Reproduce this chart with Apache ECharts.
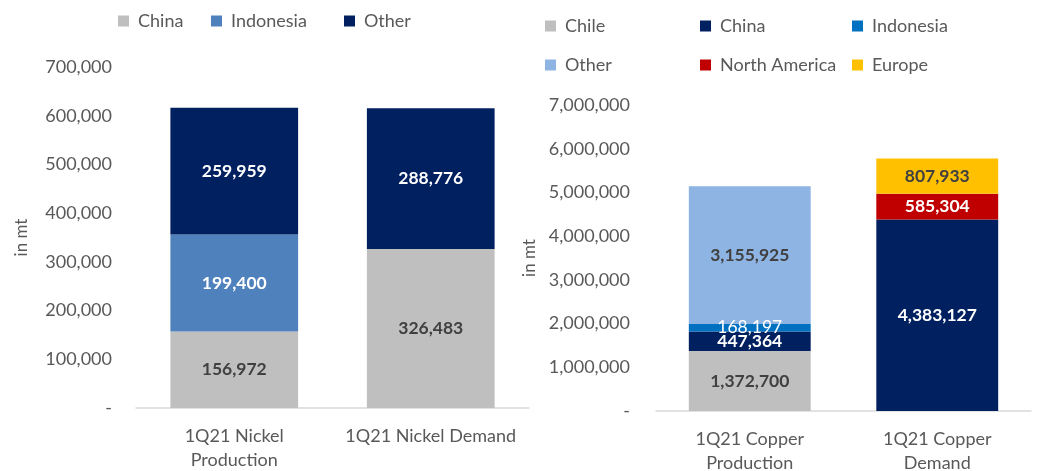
<!DOCTYPE html>
<html><head><meta charset="utf-8">
<script src="https://cdn.jsdelivr.net/npm/echarts@6/dist/echarts.min.js"></script>
<style>html,body{margin:0;padding:0;background:#fff}#c{width:1045px;height:471px}</style>
</head><body><div id="c"></div>
<script>
var nickelCats = ['1Q21 Nickel\nProduction', '1Q21 Nickel Demand'];
var nickelChina = [156972, 326483];
var nickelIndonesia = [199400, '-'];
var nickelOther = [259959, 288776];

var copperCats = ['1Q21 Copper\nProduction', '1Q21 Copper\nDemand'];
var copperChile = [1372700, '-'];
var copperChina = [447364, 4383127];
var copperIndonesia = [168197, '-'];
var copperOther = [3155925, '-'];
var copperNorthAmerica = ['-', 585304];
var copperEurope = ['-', 807933];

var FONT = 'Lato, "Open Sans", sans-serif';
var chart = echarts.init(document.getElementById('c'), null, {renderer: 'canvas'});

function fmt(v){ return v === 0 ? '-' : v.toLocaleString('en-US'); }
function lbl(color, weight){
  return {show: true, position: 'inside', color: color, fontWeight: weight || 'bold', fontSize: 17.5, fontFamily: FONT,
    formatter: function(p){ return p.value.toLocaleString('en-US'); }};
}
function legend(name, left, top){
  return {data: [name], left: left, top: top, padding: 0, itemWidth: 11, itemHeight: 11, icon: 'rect',
    formatter: function(n){ return n.split('|')[1]; },
    textStyle: {color: '#595959', fontSize: 18, fontFamily: FONT, padding: [0,0,0,4]}, selectedMode: false};
}
function yAx(gi, max, interval, gap, margin){
  return {gridIndex: gi, type: 'value', min: 0, max: max, interval: interval,
    axisLine: {show: false}, axisTick: {show: false}, splitLine: {show: false},
    axisLabel: {color: '#595959', fontSize: 18, fontFamily: FONT, margin: margin, formatter: fmt},
    name: 'in mt', nameLocation: 'middle', nameGap: gap,
    nameTextStyle: {color: '#595959', fontSize: 17, fontFamily: FONT}};
}
function xAx(gi, cats){
  return {gridIndex: gi, type: 'category', data: cats,
    axisLine: {lineStyle: {color: '#D9D9D9', width: 1.5}}, axisTick: {show: false},
    axisLabel: {color: '#595959', fontSize: 18, fontFamily: FONT, margin: 16, lineHeight: 24, interval: 0}};
}
function bar(name, data, xi, color, stack, label){
  return {name: name, type: 'bar', xAxisIndex: xi, yAxisIndex: xi, stack: stack, data: data,
    barWidth: '65%', itemStyle: {color: color}, label: label, emphasis: {disabled: true}};
}

chart.setOption({
  animation: false,
  textStyle: {fontFamily: FONT},
  legend: [
    legend('ni|China', 118, 12),
    legend('ni|Indonesia', 211, 12),
    legend('ni|Other', 344, 12),
    legend('cu|Chile', 545, 17),
    legend('cu|China', 700, 17),
    legend('cu|Indonesia', 852, 17),
    legend('cu|Other', 545, 56),
    legend('cu|North America', 700, 56),
    legend('cu|Europe', 852, 56)
  ],
  grid: [
    {left: 136, right: 516, top: 67, bottom: 63, outerBoundsMode: 'none', containLabel: false},
    {left: 656, right: 14, top: 105, bottom: 60, outerBoundsMode: 'none', containLabel: false}
  ],
  xAxis: [xAx(0, nickelCats), xAx(1, copperCats)],
  yAxis: [yAx(0, 700000, 100000, 106, 24), yAx(1, 7000000, 1000000, 118, 26)],
  series: [
    bar('ni|China', nickelChina, 0, '#BFBFBF', 'ni', lbl('#404040')),
    bar('ni|Indonesia', nickelIndonesia, 0, '#4F81BD', 'ni', lbl('#FFFFFF')),
    bar('ni|Other', nickelOther, 0, '#002060', 'ni', lbl('#FFFFFF')),
    bar('cu|Chile', copperChile, 1, '#BFBFBF', 'cu', lbl('#404040')),
    bar('cu|China', copperChina, 1, '#002060', 'cu', lbl('#FFFFFF')),
    bar('cu|Indonesia', copperIndonesia, 1, '#0070C0', 'cu', lbl('#FFFFFF', 'normal')),
    bar('cu|Other', copperOther, 1, '#8EB4E3', 'cu', lbl('#404040')),
    bar('cu|North America', copperNorthAmerica, 1, '#C00000', 'cu', lbl('#FFFFFF')),
    bar('cu|Europe', copperEurope, 1, '#FFC000', 'cu', lbl('#404040'))
  ]
});
</script></body></html>
